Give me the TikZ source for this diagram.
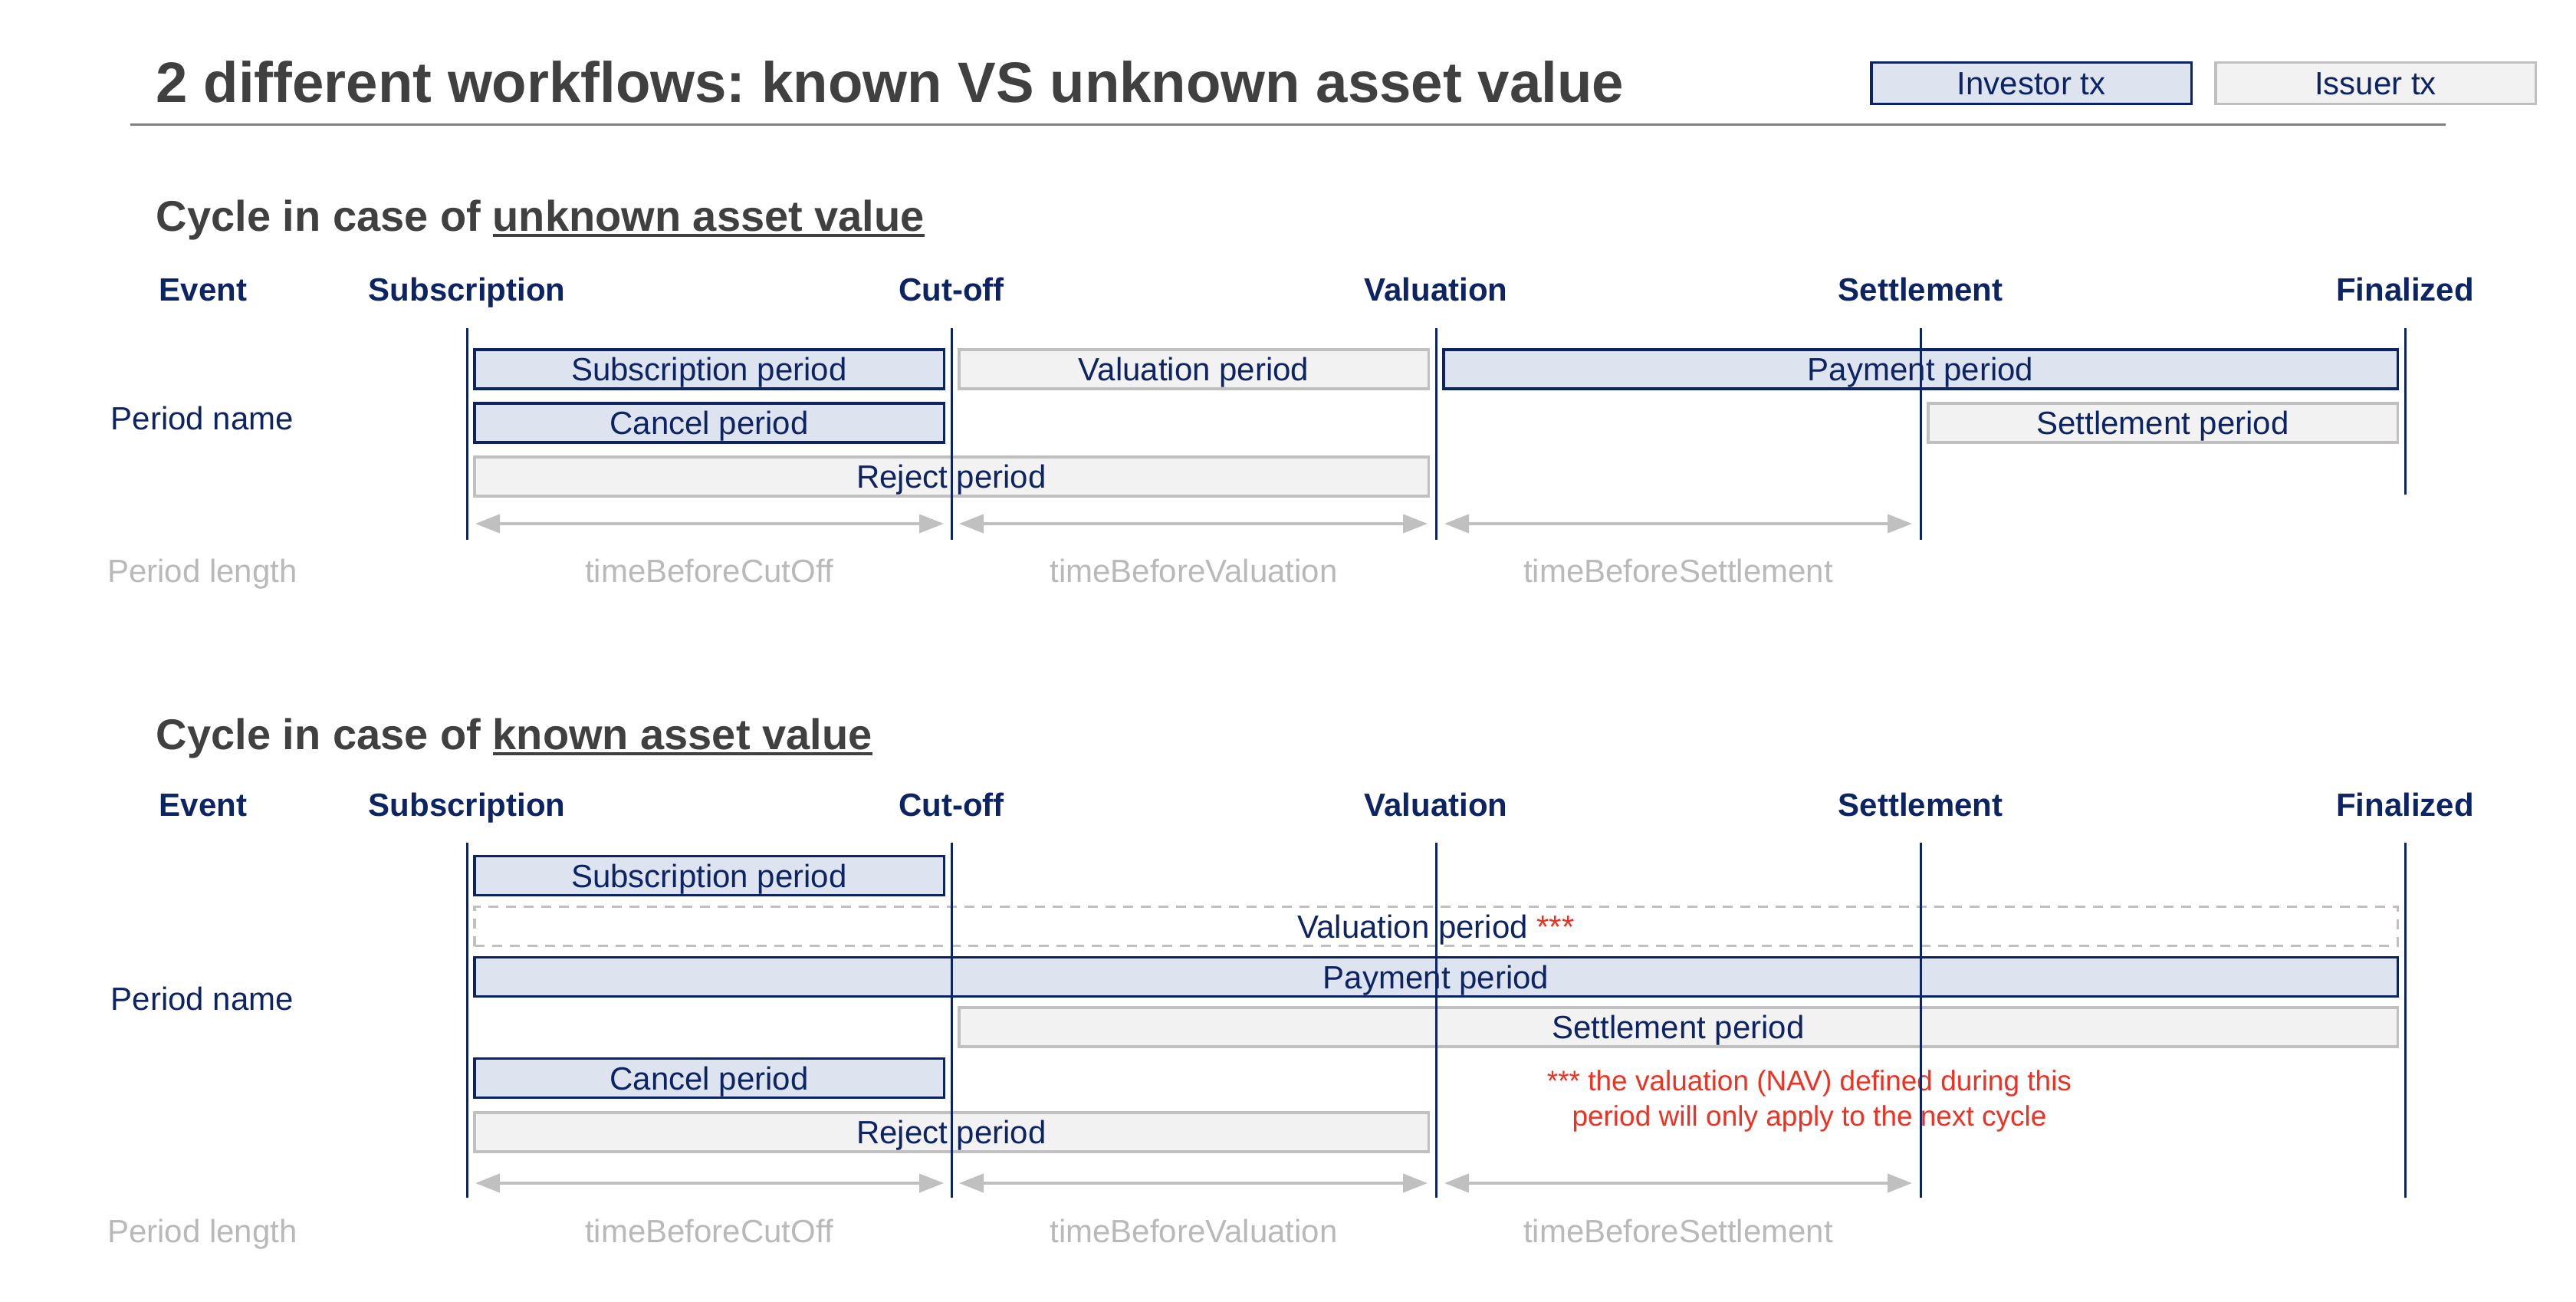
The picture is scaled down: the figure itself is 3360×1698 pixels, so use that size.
\documentclass[tikz,border=0pt]{standalone}
\usepackage{fontspec}
\setmainfont{Liberation Sans}
\usetikzlibrary{arrows.meta}
\frenchspacing
\definecolor{navy}{RGB}{12,35,100}
\definecolor{ifill}{RGB}{221,228,239}
\definecolor{gfill}{RGB}{242,242,242}
\definecolor{gline}{RGB}{192,192,192}
\definecolor{glabel}{RGB}{185,185,185}
\definecolor{titlegray}{RGB}{64,64,64}
\definecolor{rulegray}{RGB}{128,128,128}
\definecolor{notered}{RGB}{235,50,35}
\newcommand{\myul}[1]{\setbox0\hbox{#1}\rlap{\rule[-1.75pt]{\wd0}{1pt}}\box0}
\newcommand{\pbox}[6]{%
  \pgfmathsetmacro\myBoxC{(#3+#4)/2}%
  \pgfmathsetmacro\myBoxW{(#4-#3-3.5)*0.25}%
  \node[#2, minimum width=\myBoxW pt] (#1) at (\myBoxC,#5) {#6};}
\tikzset{
  box/.style={rectangle, inner sep=0pt, minimum height=12.75pt, line width=0.875pt,
    font=\fontsize{10.5}{12}\selectfont, text=navy, text height=7.52pt, text depth=0pt},
  ibox/.style={box, draw=navy, fill=ifill},
  gbox/.style={box, draw=gline, fill=gfill},
  dbox/.style={box, draw=gline, dash pattern=on 3.25pt off 2.5pt, fill=white},
  lbox/.style={box, minimum height=13.4pt},
  evt/.style={inner sep=0pt, font=\bfseries\fontsize{10.5}{12}\selectfont, text=navy, text height=7.52pt, text depth=0pt},
  plabel/.style={inner sep=0pt, font=\fontsize{10.5}{12}\selectfont, text=navy, text height=7.52pt, text depth=0pt},
  glab/.style={plabel, text=glabel},
  vline/.style={draw=navy, line width=0.75pt},
  dur/.style={draw=gline, line width=1pt, {Triangle[length=8pt,width=6pt]}-{Triangle[length=8pt,width=6pt]}},
  note/.style={inner sep=0pt, font=\fontsize{9.25}{11}\selectfont, text=notered, text height=6.62pt, text depth=0pt},
  ttl/.style={anchor=base west, inner sep=0pt, text=titlegray},
}
\begin{document}
\begin{tikzpicture}[x=0.25pt, y=-0.25pt]
\path[use as bounding box, fill=white] (0,0) rectangle (3360,1698);

% title and rule
\node[ttl, font=\bfseries\fontsize{18.6}{22}\selectfont] (title) at (203,134) {2 different workflows: known VS unknown asset value};
\coordinate (r1) at (170,163);
\coordinate (r2) at (3190,163);
\draw[rulegray, line width=0.75pt] (r1) -- (r2);

% legend
\pbox{leginv}{ibox, lbox}{2439}{2860}{108.5}{Investor tx}
\pbox{legiss}{gbox, lbox}{2888}{3309}{108.5}{Issuer tx}

% ===== Section 1 =====
\node[ttl, font=\bfseries\fontsize{14}{17}\selectfont] (sub1) at (203,302) {Cycle in case of \myul{unknown asset value}};

\node[evt] (e1ev) at (265,377) {Event};
\node[evt] (e1s) at (609,377) {Subscription};
\node[evt] (e1c) at (1241,377) {Cut-off};
\node[evt] (e1v) at (1873,377) {Valuation};
\node[evt] (e1t) at (2505,377) {Settlement};
\node[evt] (e1f) at (3137,377) {Finalized};

\node[plabel] (pn1) at (264,545) {Period name};

\pbox{a1}{ibox}{617}{1233}{481.5}{Subscription period}
\pbox{a2}{gbox}{1249}{1865}{481.5}{Valuation period}
\pbox{a3}{ibox}{1881}{3129}{481.5}{Payment period}
\pbox{a4}{ibox}{617}{1233}{551.5}{Cancel period}
\pbox{a5}{gbox}{2513}{3129}{551.5}{Settlement period}
\pbox{a6}{gbox}{617}{1865}{621.5}{Reject period}

\foreach \i/\x in {1/609,2/1241,3/1873,4/2505}{
  \coordinate (ua\i) at (\x,428);
  \coordinate (ub\i) at (\x,704);
  \draw[vline] (ua\i) -- (ub\i);
}
\coordinate (ua5) at (3137,428);
\coordinate (ub5) at (3137,645);
\draw[vline] (ua5) -- (ub5);

\foreach \i/\xa/\xb in {1/620/1231,2/1251/1862,3/1884/2494}{
  \coordinate (da\i) at (\xa,683);
  \coordinate (db\i) at (\xb,683);
  \draw[dur] (da\i) -- (db\i);
}

\node[glab] (pl1) at (264,744) {Period length};
\node[glab] (g1a) at (925,744) {timeBeforeCutOff};
\node[glab] (g1b) at (1557,744) {timeBeforeValuation};
\node[glab] (g1c) at (2189,744) {timeBeforeSettlement};

% ===== Section 2 =====
\node[ttl, font=\bfseries\fontsize{14}{17}\selectfont] (sub2) at (203,978) {Cycle in case of \myul{known asset value}};

\node[evt] (e2ev) at (265,1049) {Event};
\node[evt] (e2s) at (609,1049) {Subscription};
\node[evt] (e2c) at (1241,1049) {Cut-off};
\node[evt] (e2v) at (1873,1049) {Valuation};
\node[evt] (e2t) at (2505,1049) {Settlement};
\node[evt] (e2f) at (3137,1049) {Finalized};

\node[plabel] (pn2) at (264,1302) {Period name};

\pbox{b1}{ibox}{617}{1233}{1142}{Subscription period}
\pbox{b2}{dbox}{617}{3129}{1208}{Valuation period {\color{notered}***}}
\pbox{b3}{ibox}{617}{3129}{1274}{Payment period}
\pbox{b4}{gbox}{1249}{3129}{1339.5}{Settlement period}
\pbox{b5}{ibox}{617}{1233}{1406}{Cancel period}
\pbox{b6}{gbox}{617}{1865}{1476.5}{Reject period}

\node[note] (n1) at (2360,1409) {*** the valuation (NAV) defined during this};
\node[note] (n2) at (2360,1455) {period will only apply to the next cycle};

\foreach \i/\x in {1/609,2/1241,3/1873,4/2505,5/3137}{
  \coordinate (va\i) at (\x,1099);
  \coordinate (vb\i) at (\x,1562);
  \draw[vline] (va\i) -- (vb\i);
}

\foreach \i/\xa/\xb in {1/620/1231,2/1251/1862,3/1884/2494}{
  \coordinate (ea\i) at (\xa,1543);
  \coordinate (eb\i) at (\xb,1543);
  \draw[dur] (ea\i) -- (eb\i);
}

\node[glab] (pl2) at (264,1605) {Period length};
\node[glab] (g2a) at (925,1605) {timeBeforeCutOff};
\node[glab] (g2b) at (1557,1605) {timeBeforeValuation};
\node[glab] (g2c) at (2189,1605) {timeBeforeSettlement};
\end{tikzpicture}
\end{document}
